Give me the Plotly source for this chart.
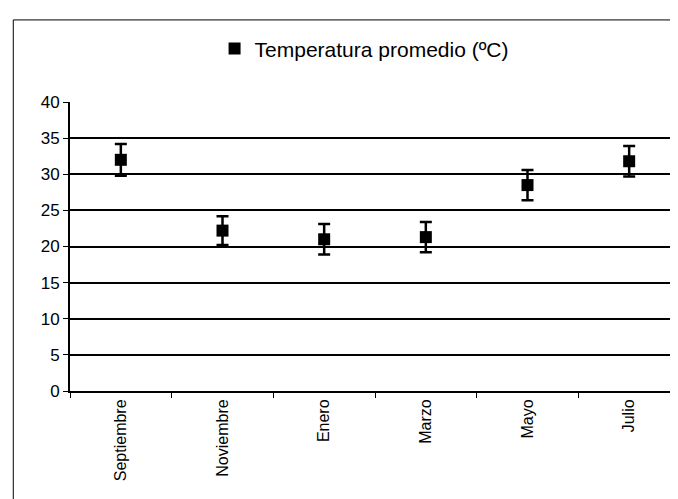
import plotly.graph_objects as go

months = ["Septiembre", "Noviembre", "Enero", "Marzo", "Mayo", "Julio"]
temp_mean = [32.0, 22.2, 21.0, 21.3, 28.5, 31.8]
temp_err = [2.2, 2.0, 2.1, 2.1, 2.1, 2.1]
y_ticks = [0, 5, 10, 15, 20, 25, 30, 35, 40]

font_family = "Liberation Sans, Arial, sans-serif"

fig = go.Figure()
fig.add_trace(go.Scatter(
    x=months, y=temp_mean, mode="markers",
    name="Temperatura promedio (ºC)",
    marker=dict(symbol="square", size=12, color="black"),
    error_y=dict(type="data", array=temp_err, visible=True,
                 color="black", thickness=2.5, width=6),
))

fig.update_layout(
    width=678, height=499,
    margin=dict(l=62, r=6, t=94, b=116),
    paper_bgcolor="white", plot_bgcolor="white",
    font=dict(family=font_family, color="black", size=16),
    showlegend=True,
    legend=dict(orientation="h", x=0.237, y=1.184, xanchor="left", yanchor="middle",
                font=dict(size=21, family=font_family, color="black"),
                bgcolor="rgba(0,0,0,0)", itemwidth=30),
    xaxis=dict(
        type="category", range=[-0.5, 5.5],
        showline=True, linecolor="black", linewidth=2,
        ticks="outside", tickson="boundaries", ticklen=5, tickcolor="black",
        tickangle=-90, showgrid=False,
        tickfont=dict(size=16, family=font_family, color="black"),
    ),
    yaxis=dict(
        range=[0, 40], tickvals=y_ticks,
        showline=True, linecolor="black", linewidth=2,
        ticks="outside", ticklen=5, tickcolor="black",
        showgrid=True, gridcolor="black", gridwidth=2,
        zeroline=False,
        tickfont=dict(size=17, family=font_family, color="black"),
    ),
    shapes=[dict(type="rect", xref="paper", yref="paper",
                 x0=-0.093, x1=1.01, y0=-0.40, y1=1.284,
                 line=dict(color="black", width=1), fillcolor="rgba(0,0,0,0)")],
)

fig.write_html("out.html")
